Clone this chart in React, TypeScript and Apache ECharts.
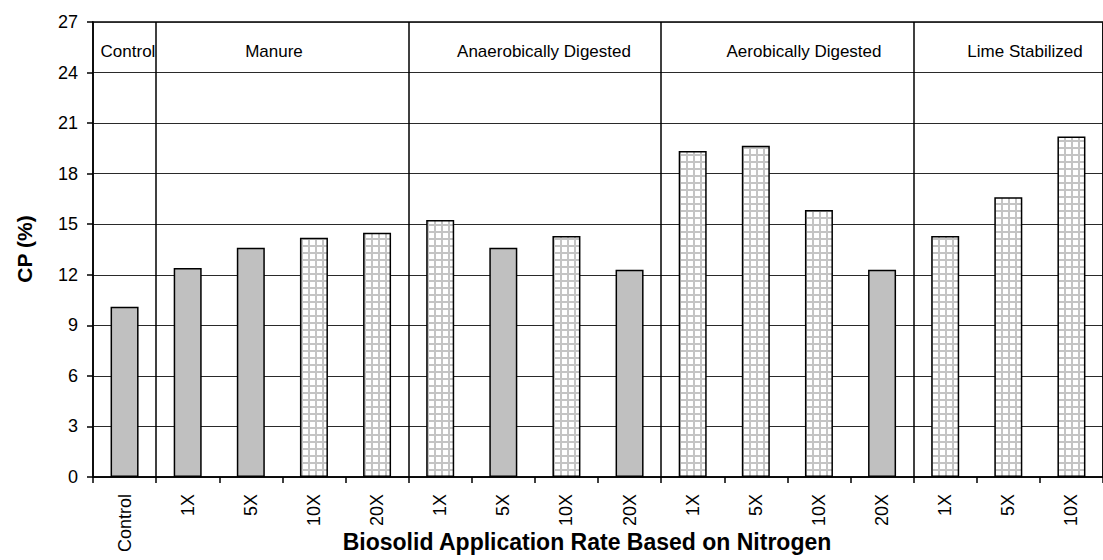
import React, { useEffect, useRef } from "react";
import * as echarts from "echarts";

const categories = ["Control", "1X", "5X", "10X", "20X", "1X", "5X", "10X", "20X", "1X", "5X", "10X", "20X", "1X", "5X", "10X"];
const cpValues = [10.1, 12.4, 13.6, 14.2, 14.5, 15.25, 13.6, 14.3, 12.3, 19.35, 19.65, 15.85, 12.3, 14.3, 16.6, 20.2];
const patterned = [false, false, false, true, true, true, false, true, false, true, true, true, false, true, true, true];
const groupNames = ["Control", "Manure", "Anaerobically Digested", "Aerobically Digested", "Lime Stabilized"];
const groupLabelX = [128, 274, 544, 804, 1025];
const groupStartIndex = [1, 5, 9, 13];
const yTicks = { min: 0, max: 27, interval: 3 };

function makePattern() {
  const c = document.createElement("canvas");
  c.width = 7;
  c.height = 7;
  const ctx = c.getContext("2d")!;
  ctx.fillStyle = "#c4c4c4";
  ctx.fillRect(0, 0, 7, 7);
  ctx.fillStyle = "#ffffff";
  ctx.fillRect(2, 2, 5, 5);
  return { image: c, repeat: "repeat", imageWidth: 7, imageHeight: 7 } as any;
}

export default function App() {
  const ref = useRef<HTMLDivElement>(null);
  useEffect(() => {
    if (!ref.current) return;
    const chart = echarts.init(ref.current, undefined, { renderer: "svg" });
    const pattern = makePattern();
    const data = cpValues.map((v, i) => ({
      value: v,
      itemStyle: {
        color: patterned[i] ? pattern : "#c0c0c0",
        borderColor: "#000",
        borderWidth: 1.5,
      },
    }));
    const font = "Arial, 'Liberation Sans', Helvetica, sans-serif";
    chart.setOption({
      animation: false,
      backgroundColor: "#fff",
      grid: {
        left: 93,
        top: 22,
        width: 1020.8,
        height: 455,
        show: true,
        borderColor: "#000",
        borderWidth: 1.5,
        backgroundColor: "transparent",
      },
      xAxis: {
        type: "category",
        data: categories,
        boundaryGap: true,
        axisLine: { lineStyle: { color: "#000", width: 1.5 } },
        axisTick: { show: true, interval: 0, length: 6, lineStyle: { color: "#000", width: 1.5 } },
        axisLabel: {
          interval: 0,
          rotate: 90,
          margin: 17,
          color: "#000",
          fontSize: 18,
          fontFamily: font,
        },
        splitLine: {
          show: true,
          interval: (index: number) => groupStartIndex.indexOf(index) >= 0,
          lineStyle: { color: "#000", width: 1.5 },
        },
      },
      yAxis: {
        type: "value",
        min: yTicks.min,
        max: yTicks.max,
        interval: yTicks.interval,
        axisLine: { show: true, lineStyle: { color: "#000", width: 1.5 } },
        axisTick: { show: true, length: 6, lineStyle: { color: "#000", width: 1.5 } },
        axisLabel: { color: "#000", fontSize: 18, margin: 15, fontFamily: font },
        splitLine: { show: true, lineStyle: { color: "#2a2a2a", width: 1 } },
      },
      series: [
        {
          type: "bar",
          data,
          barWidth: 28,
          z: 3,
        },
      ],
      graphic: [
        ...groupNames.map((name, i) => ({
          type: "text",
          x: groupLabelX[i],
          y: 51,
          z: 10,
          style: {
            text: name,
            fontSize: 17,
            fontFamily: font,
            fill: "#000",
            align: "center",
            verticalAlign: "middle",
          },
        })),
        {
          type: "text",
          x: 24,
          y: 249,
          rotation: Math.PI / 2,
          style: {
            text: "CP (%)",
            fontSize: 21,
            fontWeight: "bold",
            fontFamily: font,
            fill: "#000",
            align: "center",
            verticalAlign: "middle",
          },
        },
        {
          type: "text",
          x: 587,
          y: 542,
          style: {
            text: "Biosolid Application Rate Based on Nitrogen",
            fontSize: 23,
            fontWeight: "bold",
            fontFamily: font,
            fill: "#000",
            align: "center",
            verticalAlign: "middle",
          },
        },
      ],
    });
    return () => chart.dispose();
  }, []);
  return (
    <div
      ref={ref}
      style={{ position: "absolute", left: 0, top: 0, width: 1103, height: 560 }}
    />
  );
}
